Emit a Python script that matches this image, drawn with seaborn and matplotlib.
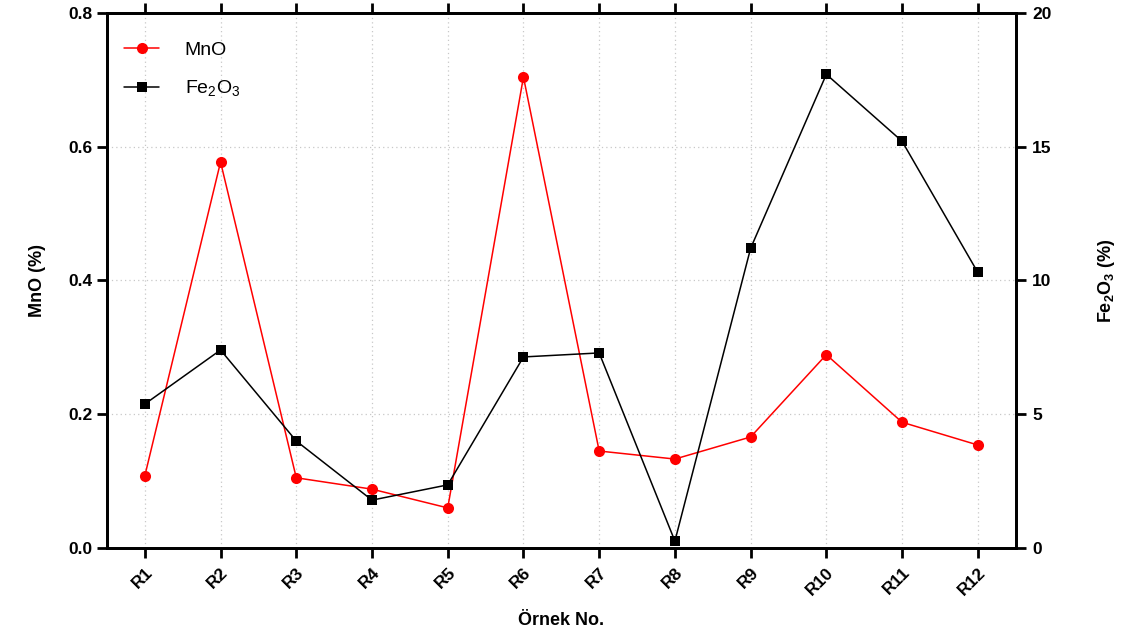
import numpy as np
import pandas as pd
import seaborn as sns
import matplotlib.pyplot as plt

# data
samples = ['R1', 'R2', 'R3', 'R4', 'R5', 'R6', 'R7', 'R8', 'R9', 'R10', 'R11', 'R12']
mno = [0.108, 0.577, 0.105, 0.088, 0.060, 0.704, 0.145, 0.133, 0.166, 0.289, 0.188, 0.154]
fe2o3 = [5.38, 7.40, 4.00, 1.79, 2.36, 7.14, 7.29, 0.26, 11.2, 17.7, 15.2, 10.3]

df = pd.DataFrame({'sample': samples, 'MnO': mno, 'Fe2O3': fe2o3})

sns.set_style('ticks')
plt.rcParams['font.family'] = ['Liberation Sans', 'DejaVu Sans']
plt.rcParams['mathtext.fontset'] = 'custom'
plt.rcParams['mathtext.rm'] = 'Liberation Sans'
plt.rcParams['mathtext.bf'] = 'Liberation Sans:bold'
plt.rcParams['text.color'] = 'black'
plt.rcParams['axes.labelcolor'] = 'black'
plt.rcParams['xtick.color'] = 'black'
plt.rcParams['ytick.color'] = 'black'
plt.rcParams['axes.edgecolor'] = 'black'

fig, ax = plt.subplots(figsize=(11.26, 6.38), dpi=100)
fig.subplots_adjust(left=0.095, right=0.902, top=0.98, bottom=0.141)
ax2 = ax.twinx()

sns.lineplot(data=df, x='sample', y='MnO', ax=ax, color='#ff0000', marker='o',
             markersize=8, markeredgewidth=0, linewidth=1.1, label='MnO', legend=False)
sns.lineplot(data=df, x='sample', y='Fe2O3', ax=ax2, color='black', marker='s',
             markersize=7.5, markeredgewidth=0, linewidth=1.1, label='Fe$_2$O$_3$', legend=False)

ax.set_xlim(-0.5, len(samples) - 0.5)
ax.set_ylim(0, 0.8)
ax.set_yticks([0.0, 0.2, 0.4, 0.6, 0.8])
ax.set_yticklabels(['0.0', '0.2', '0.4', '0.6', '0.8'])
ax2.set_ylim(0, 20)
ax2.set_yticks([0, 5, 10, 15, 20])

# dotted grid
ax.grid(True, linestyle=(0, (1, 2.5)), color='#c8c8c8', linewidth=0.9)
ax.set_axisbelow(True)

for a in (ax, ax2):
    for s in a.spines.values():
        s.set_linewidth(2.0)
        s.set_visible(True)
        s.set_color('black')
    a.tick_params(length=7, width=2.0, labelsize=12.5, direction='out', colors='black')

ax.tick_params(axis='x', top=True, pad=5)
ax2.tick_params(axis='y', pad=5)
for lbl in ax.get_xticklabels() + ax.get_yticklabels() + ax2.get_yticklabels():
    lbl.set_fontweight('bold')
plt.setp(ax.get_xticklabels(), rotation=45, ha='right', rotation_mode='anchor')

ax.set_xlabel('Örnek No.', fontsize=13, fontweight='bold', labelpad=10)
ax.set_ylabel('MnO (%)', fontsize=13, fontweight='bold', labelpad=16)
ax2.set_ylabel(r'Fe$_\mathbf{2}$O$_\mathbf{3}$ (%)', fontsize=13, fontweight='bold', labelpad=32)

h1, l1 = ax.get_legend_handles_labels()
h2, l2 = ax2.get_legend_handles_labels()
ax2.legend(h1 + h2, l1 + l2, loc='upper left', bbox_to_anchor=(0.0, 0.98), frameon=False,
           fontsize=14, handlelength=1.8, labelspacing=1.05, handletextpad=1.3)

fig.savefig('out.png', dpi=100)
